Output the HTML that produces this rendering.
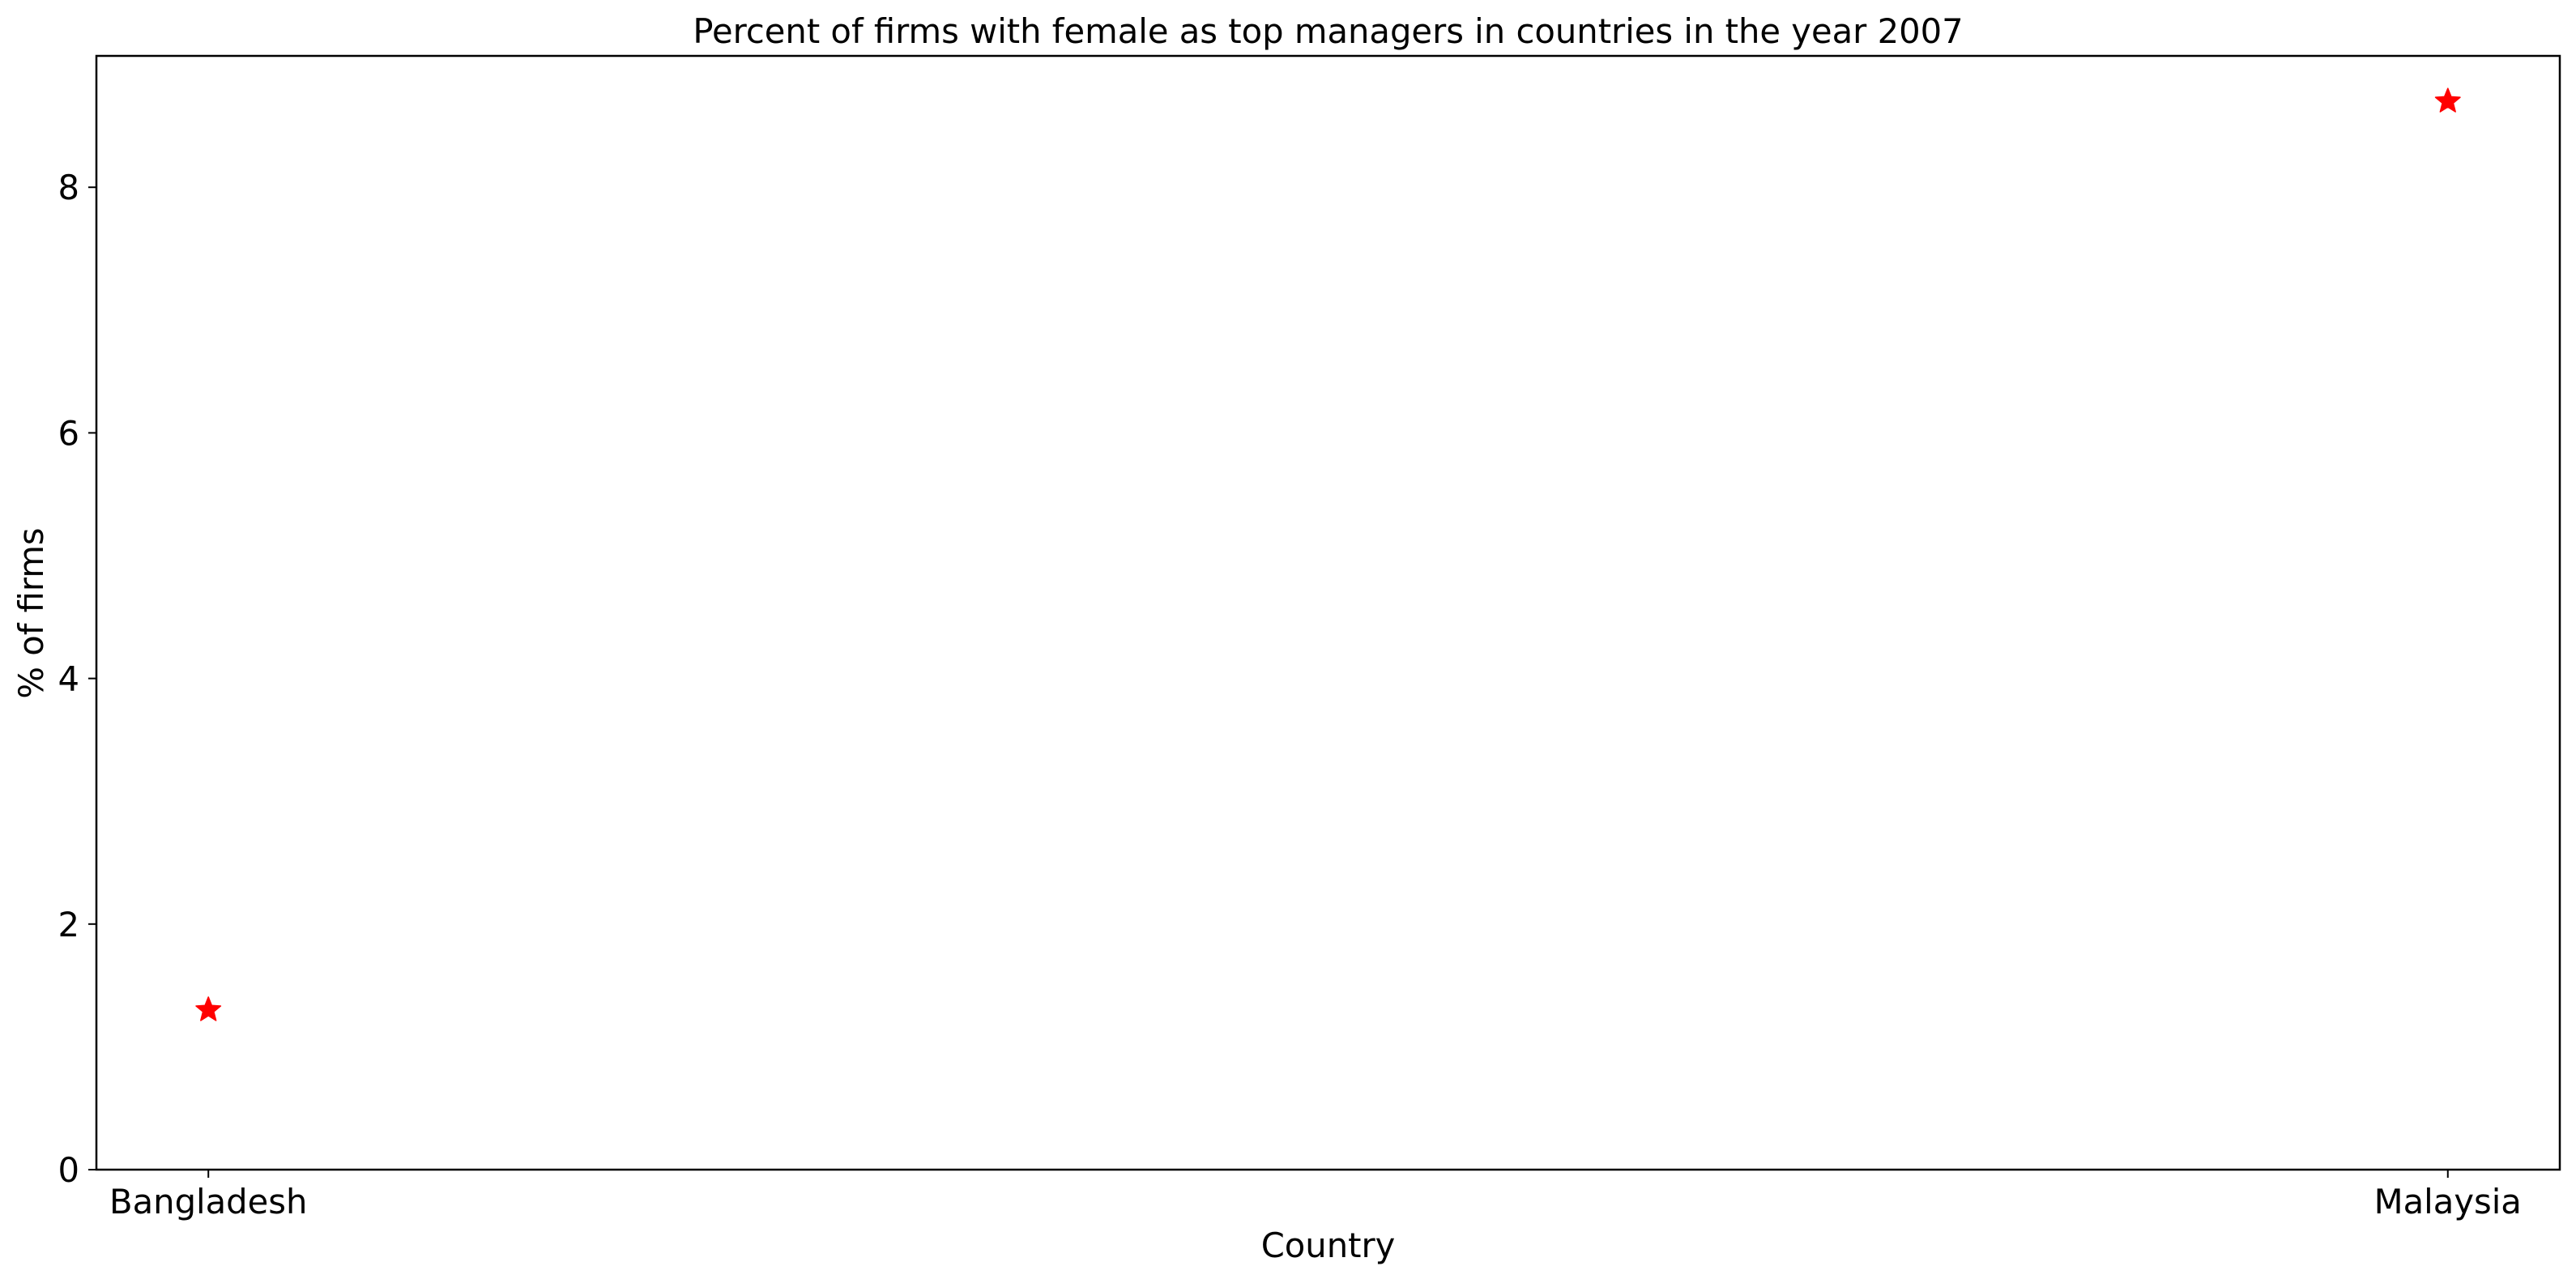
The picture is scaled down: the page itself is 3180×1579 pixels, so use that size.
<!DOCTYPE html>
<html><head><meta charset="utf-8"><style>
html,body{margin:0;padding:0;background:#fff;}
svg{display:block;font-family:"DejaVu Sans","Liberation Sans",sans-serif;}
</style></head><body>
<svg id="chart" width="3180" height="1579" viewBox="0 0 3180 1579">
<rect x="0" y="0" width="3180" height="1579" fill="#fff"/>
<text x="1639.5" y="53" font-size="41.7" text-anchor="middle" fill="#000">Percent of firms with female as top managers in countries in the year 2007</text>
<g id="yticks"></g>
<g id="xticks"></g>
<g id="marks"></g>
<rect x="119" y="69" width="3041" height="1375" fill="none" stroke="#000" stroke-width="2.5"/>
<text x="1639.5" y="1552" font-size="41.7" text-anchor="middle" fill="#000">Country</text>
<text x="0" y="0" font-size="41.7" text-anchor="middle" fill="#000" transform="translate(53,757) rotate(-90)">% of firms</text>
</svg>
<script>
const categories = ["Bangladesh", "Malaysia"];
const values = [1.3, 8.7];
const yTickValues = [0, 2, 4, 6, 8];
const yTickLabels = ["0", "2", "4", "6", "8"];

const NS = "http://www.w3.org/2000/svg";
const L = 119, R = 3160, T = 69, B = 1444;
const yMax = 9.07;
const xPad = 0.05 * (categories.length - 1);
function xScale(i){ const lo = -xPad, hi = categories.length - 1 + xPad; return L + (i - lo) / (hi - lo) * (R - L); }
function yScale(v){ return B - v / yMax * (B - T); }
function mk(tag, attrs, parent){ const e = document.createElementNS(NS, tag); for (const k in attrs) e.setAttribute(k, attrs[k]); parent.appendChild(e); return e; }

const yg = document.getElementById('yticks');
yTickValues.forEach((v, i) => {
  const y = yScale(v);
  const t = mk('line', {x1: L - 10, x2: L, y1: y, y2: y, stroke: '#000', 'stroke-width': 2}, yg);
  
  
  const lb = mk('text', {x: L - 21, y: y + 15, 'font-size': 41.7, 'text-anchor': 'end', fill: '#000'}, yg);
  lb.textContent = yTickLabels[i];
  
  
});

const xg = document.getElementById('xticks');
categories.forEach((c, i) => {
  const x = xScale(i);
  const t = mk('line', {x1: x, x2: x, y1: B, y2: B + 10, stroke: '#000', 'stroke-width': 2}, xg);
  
  
  const lb = mk('text', {x: x, y: 1498, 'font-size': 41.7, 'text-anchor': 'middle', fill: '#000'}, xg);
  lb.textContent = c;
  
  
});

function starPath(cx, cy, ro, ri){
  let d = '';
  for (let k = 0; k < 10; k++) {
    const r = k % 2 ? ri : ro;
    const a = -Math.PI / 2 + k * Math.PI / 5;
    d += (k ? 'L' : 'M') + (cx + r * Math.cos(a)).toFixed(2) + ',' + (cy + r * Math.sin(a)).toFixed(2);
  }
  return d + 'Z';
}
const mg = document.getElementById('marks');
values.forEach((v, i) => {
  const p = mk('path', {d: starPath(xScale(i), yScale(v), 16, 7), fill: '#ff0000', stroke: '#ff0000', 'stroke-width': 1.5, 'stroke-linejoin': 'round'}, mg);
  
  
});
</script>
</body></html>
